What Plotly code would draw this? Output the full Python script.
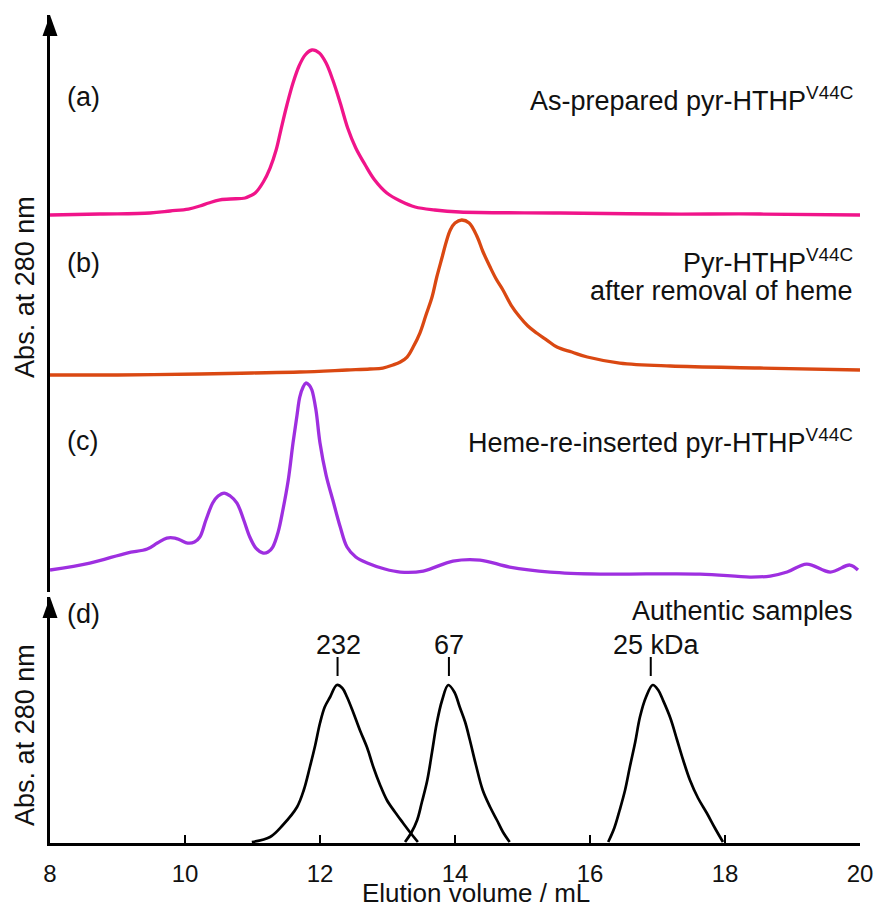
import plotly.graph_objects as go

# ---------------- data (elution volume in mL, absorbance in arbitrary units) ----------------
# (a) as-prepared
a_x = [8.00, 8.74, 9.48, 9.78, 10.05, 10.22, 10.35, 10.50, 10.67, 10.89, 10.96, 11.04, 11.16, 11.26,
       11.35, 11.42, 11.51, 11.60, 11.69, 11.78, 11.88, 11.99, 12.09, 12.19, 12.30, 12.41, 12.53,
       12.67, 12.81, 12.99, 13.19, 13.41, 13.70, 14.07, 15.56, 17.04, 18.52, 20.00]
a_y = [3.77, 3.78, 3.79, 3.81, 3.83, 3.86, 3.89, 3.92, 3.93, 3.94, 3.96, 3.99, 4.10, 4.24,
       4.42, 4.62, 4.87, 5.09, 5.26, 5.37, 5.42, 5.39, 5.29, 5.12, 4.89, 4.64, 4.44,
       4.27, 4.12, 3.99, 3.91, 3.85, 3.82, 3.80, 3.79, 3.78, 3.78, 3.77]

# (b) after removal of heme
b_x = [8.00, 9.00, 10.22, 11.00, 11.70, 12.40, 12.74, 12.93, 13.08, 13.19, 13.29, 13.38, 13.48,
       13.57, 13.66, 13.73, 13.81, 13.87, 13.93, 14.00, 14.10, 14.21, 14.33, 14.41, 14.52, 14.61,
       14.71, 14.83, 14.96, 15.08, 15.21, 15.36, 15.51, 15.73, 15.96, 16.44, 17.19, 18.52, 20.00]
b_y = [2.17, 2.17, 2.18, 2.19, 2.20, 2.22, 2.23, 2.24, 2.27, 2.30, 2.35, 2.45, 2.59,
       2.77, 2.95, 3.15, 3.35, 3.50, 3.62, 3.69, 3.72, 3.69, 3.55, 3.41, 3.25, 3.13,
       3.02, 2.87, 2.75, 2.66, 2.59, 2.52, 2.45, 2.40, 2.35, 2.29, 2.26, 2.24, 2.22]

# (c) heme re-inserted
c_x = [8.00, 8.59, 9.14, 9.44, 9.59, 9.73, 9.85, 9.93, 10.04, 10.14, 10.22, 10.31, 10.41, 10.49,
       10.58, 10.67, 10.77, 10.87, 10.96, 11.05, 11.16, 11.23, 11.30, 11.38, 11.45, 11.53, 11.60,
       11.66, 11.70, 11.75, 11.79, 11.84, 11.88, 11.94, 12.00, 12.09, 12.19, 12.30, 12.40, 12.53,
       12.70, 12.96, 13.19, 13.53, 13.97, 14.37, 14.81, 15.41, 16.15, 17.63, 18.37, 18.67, 18.92,
       19.21, 19.56, 19.85, 19.97]
c_y = [0.22, 0.29, 0.39, 0.43, 0.49, 0.54, 0.54, 0.52, 0.49, 0.50, 0.55, 0.72, 0.89, 0.96,
       0.99, 0.96, 0.89, 0.72, 0.55, 0.44, 0.39, 0.40, 0.45, 0.60, 0.82, 1.12, 1.49,
       1.77, 1.95, 2.05, 2.09, 2.07, 2.02, 1.82, 1.49, 1.17, 0.92, 0.65, 0.45, 0.35,
       0.29, 0.23, 0.20, 0.21, 0.31, 0.32, 0.25, 0.20, 0.18, 0.18, 0.15, 0.16, 0.20,
       0.28, 0.20, 0.27, 0.22]

# (d) authentic samples
s232_x = [10.99, 11.26, 11.45, 11.66, 11.76, 11.85, 11.93, 12.00, 12.07, 12.15, 12.25, 12.33, 12.40,
          12.49, 12.59, 12.70, 12.79, 12.89, 12.99, 13.11, 13.23, 13.33, 13.45]
s232_y = [0.01, 0.06, 0.18, 0.36, 0.53, 0.76, 0.98, 1.20, 1.36, 1.46, 1.58, 1.55, 1.46,
          1.31, 1.13, 0.95, 0.76, 0.58, 0.43, 0.31, 0.20, 0.11, 0.01]
s67_x = [13.26, 13.35, 13.44, 13.51, 13.59, 13.66, 13.73, 13.81, 13.90, 13.99, 14.07, 14.15, 14.22,
         14.31, 14.41, 14.52, 14.62, 14.71, 14.81]
s67_y = [0.01, 0.10, 0.23, 0.41, 0.63, 0.91, 1.20, 1.43, 1.58, 1.51, 1.36, 1.21, 1.03,
         0.78, 0.53, 0.36, 0.23, 0.11, 0.01]
s25_x = [16.27, 16.36, 16.44, 16.52, 16.59, 16.67, 16.74, 16.83, 16.93, 17.01, 17.08, 17.19, 17.29,
         17.38, 17.48, 17.60, 17.73, 17.85, 17.97]
s25_y = [0.01, 0.15, 0.33, 0.53, 0.76, 1.01, 1.26, 1.46, 1.58, 1.53, 1.43, 1.25, 1.03,
         0.83, 0.63, 0.45, 0.30, 0.15, 0.01]

mw_labels = ["232", "67", "25 kDa"]
mw_tick_x = [12.26, 13.91, 16.90]
mw_label_x = [12.28, 13.91, 16.99]
mw_tick_y = [1.67, 1.86]
mw_label_y = 1.98

x_ticks = [8, 10, 12, 14, 16, 18, 20]

# ---------------- figure ----------------
FONT = "Liberation Sans, Arial, sans-serif"
FS = 27
fig = go.Figure()

def curve(x, y, color, width, yax):
    fig.add_trace(go.Scatter(x=x, y=y, mode="lines", yaxis=yax,
                             line=dict(color=color, width=width, shape="spline", smoothing=1.0),
                             showlegend=False, hoverinfo="skip"))

curve(a_x, a_y, "#F0148A", 3.3, "y2")
curve(b_x, b_y, "#DA4812", 3.3, "y2")
curve(c_x, c_y, "#9E2FE0", 3.3, "y2")
curve(s232_x, s232_y, "#000000", 2.7, "y")
curve(s67_x, s67_y, "#000000", 2.7, "y")
curve(s25_x, s25_y, "#000000", 2.7, "y")

# MW marker ticks
tx, ty = [], []
for xv in mw_tick_x:
    tx += [xv, xv, None]
    ty += [mw_tick_y[0], mw_tick_y[1], None]
fig.add_trace(go.Scatter(x=tx, y=ty, mode="lines", line=dict(color="black", width=2),
                         showlegend=False, hoverinfo="skip"))

ann = []
for lab, xv in zip(mw_labels, mw_label_x):
    ann.append(dict(x=xv, y=mw_label_y, xref="x", yref="y", text=lab, showarrow=False,
                    xanchor="center", yanchor="middle", font=dict(size=FS)))

def rtext(t, y, yref):
    ann.append(dict(x=19.93, y=y, xref="x", yref=yref, text=t, showarrow=False,
                    xanchor="right", yanchor="middle", font=dict(size=FS)))

def ltext(t, y, yref):
    ann.append(dict(x=8.22, y=y, xref="x", yref=yref, text=t, showarrow=False,
                    xanchor="left", yanchor="middle", font=dict(size=FS)))

ltext("(a)", 4.95, "y2")
ltext("(b)", 3.29, "y2")
ltext("(c)", 1.51, "y2")
ltext("(d)", 2.29, "y")
rtext("As-prepared pyr-HTHP<sup>V44C</sup>", 4.93, "y2")
rtext("Pyr-HTHP<sup>V44C</sup>", 3.31, "y2")
rtext("after removal of heme", 3.01, "y2")
rtext("Heme-re-inserted pyr-HTHP<sup>V44C</sup>", 1.51, "y2")
rtext("Authentic samples", 2.32, "y")

# axis titles
ann.append(dict(x=-0.031, y=0.6715, xref="paper", yref="paper", text="Abs. at 280 nm",
                textangle=-90, showarrow=False, xanchor="center", yanchor="middle",
                font=dict(size=FS)))
ann.append(dict(x=-0.031, y=0.1304, xref="paper", yref="paper", text="Abs. at 280 nm",
                textangle=-90, showarrow=False, xanchor="center", yanchor="middle",
                font=dict(size=FS)))
ann.append(dict(x=14.31, y=-0.0809, xref="x", yref="paper", text="Elution volume / mL",
                showarrow=False, xanchor="center", yanchor="bottom", font=dict(size=26)))

# arrowheads on the vertical axes (paper refs so they are not clipped)
arrow_path = "M -7.5,-21 L 0,0 L 7.5,-21 Z"
shapes = [
    dict(type="path", xref="paper", yref="paper", xsizemode="pixel", ysizemode="pixel",
         xanchor=0, yanchor=1.0, path=arrow_path, fillcolor="black", line=dict(width=0)),
    dict(type="path", xref="paper", yref="paper", xsizemode="pixel", ysizemode="pixel",
         xanchor=0, yanchor=0.2971, path=arrow_path, fillcolor="black", line=dict(width=0)),
]

fig.update_layout(
    width=874, height=910,
    margin=dict(l=50, r=14, t=15, b=67, autoexpand=False),
    paper_bgcolor="white", plot_bgcolor="white",
    font=dict(family=FONT, color="#111111"),
    showlegend=False,
    annotations=ann,
    shapes=shapes,
    xaxis=dict(range=[8, 20], anchor="y", showline=True, linecolor="black", linewidth=2.5,
               ticks="inside", ticklen=8, tickwidth=2, tickcolor="black",
               tickvals=x_ticks, ticktext=[str(v) for v in x_ticks], automargin=False,
               ticklabelstandoff=7,
               tickfont=dict(size=24), showgrid=False, zeroline=False),
    yaxis=dict(domain=[0, 0.2971], range=[0, 2.46], anchor="x", showline=True,
               linecolor="black", linewidth=2.5, showticklabels=False, ticks="",
               showgrid=False, zeroline=False, automargin=False),
    yaxis2=dict(domain=[0.3031, 1], range=[0, 5.77], anchor="x", showline=True,
                linecolor="black", linewidth=2.5, showticklabels=False, ticks="",
                showgrid=False, zeroline=False, automargin=False),
)

fig.write_html("out.html")
